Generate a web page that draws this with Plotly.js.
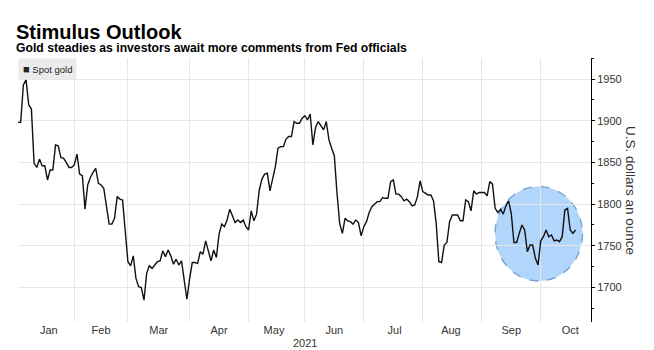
<!DOCTYPE html>
<html>
<head>
<meta charset="utf-8">
<script src="https://cdn.plot.ly/plotly-3.0.1.min.js"></script>
<style>
  html, body { margin: 0; padding: 0; background: #fff; }
  #chart { width: 654px; height: 350px; }
</style>
</head>
<body>
<div id="chart"></div>
<script>
// Trading days (weekdays) shown on the chart
const dates = [
  // Jan
  "2021-01-01","2021-01-04","2021-01-05","2021-01-06","2021-01-07","2021-01-08",
  "2021-01-11","2021-01-12","2021-01-13","2021-01-14","2021-01-15",
  "2021-01-18","2021-01-19","2021-01-20","2021-01-21","2021-01-22",
  "2021-01-25","2021-01-26","2021-01-27","2021-01-28","2021-01-29",
  // Feb
  "2021-02-01","2021-02-02","2021-02-03","2021-02-04","2021-02-05",
  "2021-02-08","2021-02-09","2021-02-10","2021-02-11","2021-02-12",
  "2021-02-15","2021-02-16","2021-02-17","2021-02-18","2021-02-19",
  "2021-02-22","2021-02-23","2021-02-24","2021-02-25","2021-02-26",
  // Mar
  "2021-03-01","2021-03-02","2021-03-03","2021-03-04","2021-03-05",
  "2021-03-08","2021-03-09","2021-03-10","2021-03-11","2021-03-12",
  "2021-03-15","2021-03-16","2021-03-17","2021-03-18","2021-03-19",
  "2021-03-22","2021-03-23","2021-03-24","2021-03-25","2021-03-26",
  "2021-03-29","2021-03-30","2021-03-31",
  // Apr
  "2021-04-01","2021-04-02",
  "2021-04-05","2021-04-06","2021-04-07","2021-04-08","2021-04-09",
  "2021-04-12","2021-04-13","2021-04-14","2021-04-15","2021-04-16",
  "2021-04-19","2021-04-20","2021-04-21","2021-04-22","2021-04-23",
  "2021-04-26","2021-04-27","2021-04-28","2021-04-29","2021-04-30",
  // May
  "2021-05-03","2021-05-04","2021-05-05","2021-05-06","2021-05-07",
  "2021-05-10","2021-05-11","2021-05-12","2021-05-13","2021-05-14",
  "2021-05-17","2021-05-18","2021-05-19","2021-05-20","2021-05-21",
  "2021-05-24","2021-05-25","2021-05-26","2021-05-27","2021-05-28",
  "2021-05-31",
  // Jun
  "2021-06-01","2021-06-02","2021-06-03","2021-06-04",
  "2021-06-07","2021-06-08","2021-06-09","2021-06-10","2021-06-11",
  "2021-06-14","2021-06-15","2021-06-16","2021-06-17","2021-06-18",
  "2021-06-21","2021-06-22","2021-06-23","2021-06-24","2021-06-25",
  "2021-06-28","2021-06-29","2021-06-30",
  // Jul
  "2021-07-01","2021-07-02",
  "2021-07-05","2021-07-06","2021-07-07","2021-07-08","2021-07-09",
  "2021-07-12","2021-07-13","2021-07-14","2021-07-15","2021-07-16",
  "2021-07-19","2021-07-20","2021-07-21","2021-07-22","2021-07-23",
  "2021-07-26","2021-07-27","2021-07-28","2021-07-29","2021-07-30",
  // Aug
  "2021-08-02","2021-08-03","2021-08-04","2021-08-05","2021-08-06",
  "2021-08-09","2021-08-10","2021-08-11","2021-08-12","2021-08-13",
  "2021-08-16","2021-08-17","2021-08-18","2021-08-19","2021-08-20",
  "2021-08-23","2021-08-24","2021-08-25","2021-08-26","2021-08-27",
  "2021-08-30","2021-08-31",
  // Sep
  "2021-09-01","2021-09-02","2021-09-03",
  "2021-09-06","2021-09-07","2021-09-08","2021-09-09","2021-09-10",
  "2021-09-13","2021-09-14","2021-09-15","2021-09-16","2021-09-17",
  "2021-09-20","2021-09-21","2021-09-22","2021-09-23","2021-09-24",
  "2021-09-27","2021-09-28","2021-09-29","2021-09-30",
  // Oct
  "2021-10-01",
  "2021-10-04","2021-10-05","2021-10-06","2021-10-07","2021-10-08",
  "2021-10-11","2021-10-12","2021-10-13","2021-10-14","2021-10-15",
  "2021-10-18","2021-10-19","2021-10-20"
];

// Spot gold, U.S. dollars an ounce
const spotGold = [
  // Jan
  1898,1898,1943,1949,1919,1914,1849,1844,1854,1846,1846,1829,1841,1841,1871,1870,1856,1855,1850,1844,1844,
  // Feb
  1847,1860,1836,1834,1794,1823,1832,1838,1843,1825,1823,1819,1798,1776,1776,1783,1809,1806,1805,1770,
  // Mar
  1731,1726,1738,1711,1701,1700,1685,1717,1726,1723,1727,1731,1732,1744,1737,1745,1738,1728,1734,1727,1732,1709,1686,
  // Apr
  1710,1730,1730,1729,1743,1740,1756,1745,1732,1745,1736,1764,1776,1773,1781,1794,1786,1778,1781,1778,1781,1773,
  // May
  1769,1792,1780,1788,1817,1830,1836,1837,1816,1831,1845,1867,1869,1869,1878,1881,1881,1899,1897,1897,1903,
  // Jun
  1906,1901,1908,1871,1892,1899,1894,1889,1899,1877,1867,1858,1813,1777,1765,1783,1780,1779,1776,1781,1778,1762,
  // Jul
  1773,1779,1790,1797,1800,1803,1803,1808,1807,1807,1827,1829,1812,1812,1809,1804,1806,1803,1798,1799,1809,1828,
  // Aug
  1815,1813,1811,1811,1804,1777,1731,1730,1751,1754,1779,1787,1787,1787,1780,1780,1805,1803,1792,1816,1812,1814,
  // Sep
  1814,1814,1810,1827,1824,1795,1790,1794,1788,1798,1804,1789,1754,1754,1765,1775,1769,1743,1751,1751,1735,1727,
  // Oct
  1756,1761,1769,1761,1763,1756,1757,1755,1761,1793,1795,1769,1765,1769
];

const seriesName = "Spot gold";
const titleText = "Stimulus Outlook";
const subtitleText = "Gold steadies as investors await more comments from Fed officials";
const yTitleText = "U.S. dollars an ounce";
const yearLabel = "2021";
const yTickVals = [1700, 1750, 1800, 1850, 1900, 1950];

const narrow = "'Liberation Sans Narrow', 'Arial Narrow', 'Liberation Sans', Arial, sans-serif";
const base = "'Liberation Sans', Arial, sans-serif";

const trace = {
  type: "scatter",
  mode: "lines",
  name: seriesName,
  x: dates,
  y: spotGold,
  line: { color: "#111111", width: 1.4 },
  showlegend: false,
  hoverinfo: "x+y"
};

const layout = {
  width: 654,
  height: 350,
  margin: { l: 18, r: 63, t: 58, b: 28 },
  paper_bgcolor: "#ffffff",
  plot_bgcolor: "#ffffff",
  font: { family: base, color: "#333333", size: 11 },
  showlegend: false,
  xaxis: {
    type: "date",
    range: ["2021-01-01", "2021-10-27 18:00"],
    rangebreaks: [{ bounds: ["sat", "mon"] }],
    tick0: "2021-01-01",
    dtick: "M1",
    tickformat: "%b",
    ticklabelmode: "period",
    showgrid: true,
    gridcolor: "#e6e6e6",
    gridwidth: 1,
    zeroline: false,
    showline: false,
    ticks: "",
    tickfont: { family: base, size: 11, color: "#333333" },
    fixedrange: true
  },
  yaxis: {
    side: "right",
    range: [1658.7, 1975.2],
    tickvals: yTickVals,
    ticktext: yTickVals.map(String),
    showgrid: true,
    gridcolor: "#e6e6e6",
    zeroline: false,
    showline: true,
    linecolor: "#000000",
    linewidth: 1,
    ticks: "outside",
    ticklen: 3,
    tickcolor: "#000000",
    ticklabelstandoff: 0,
    tickfont: { family: base, size: 11, color: "#333333" },
    minor: { dtick: 25, tick0: 1700, ticks: "outside", ticklen: 2, tickcolor: "#000000", showgrid: false },
    fixedrange: true
  },
  shapes: [
    {
      type: "circle",
      xref: "paper", yref: "paper",
      x0: (495 - 18) / 573, x1: (582.5 - 18) / 573,
      y0: (322 - 281) / 264, y1: (322 - 186.5) / 264,
      fillcolor: "#b2d6fb",
      line: { color: "#6f9fd0", width: 1.3, dash: "dash" },
      layer: "between"
    }
  ],
  annotations: [
    {
      text: "<b>" + titleText + "</b>",
      xref: "paper", yref: "paper",
      x: -4 / 573, y: (322 - 31.5) / 264,
      xanchor: "left", yanchor: "middle",
      showarrow: false,
      font: { family: narrow, size: 20, color: "#000000" }
    },
    {
      text: "<b>" + subtitleText + "</b>",
      xref: "paper", yref: "paper",
      x: -4 / 573, y: (322 - 48) / 264,
      xanchor: "left", yanchor: "middle",
      showarrow: false,
      font: { family: narrow, size: 12.2, color: "#000000" }
    },
    {
      text: "<span style='font-size:11px'>■</span> " + seriesName,
      xref: "paper", yref: "paper",
      x: 0, y: 1,
      xanchor: "left", yanchor: "top",
      showarrow: false,
      align: "left",
      bgcolor: "#ebebeb",
      borderpad: 4,
      font: { family: base, size: 9.5, color: "#222222" }
    },
    {
      text: yTitleText,
      xref: "paper", yref: "paper",
      x: (631 - 18) / 573, y: (322 - 190) / 264,
      xanchor: "center", yanchor: "middle",
      textangle: 90,
      showarrow: false,
      font: { family: base, size: 13.5, color: "#333333" }
    },
    {
      text: yearLabel,
      xref: "paper", yref: "paper",
      x: (305 - 18) / 573, y: (322 - 343) / 264,
      xanchor: "center", yanchor: "middle",
      showarrow: false,
      font: { family: base, size: 11, color: "#333333" }
    }
  ]
};

Plotly.newPlot("chart", [trace], layout, { displayModeBar: false, staticPlot: true });
</script>
</body>
</html>
